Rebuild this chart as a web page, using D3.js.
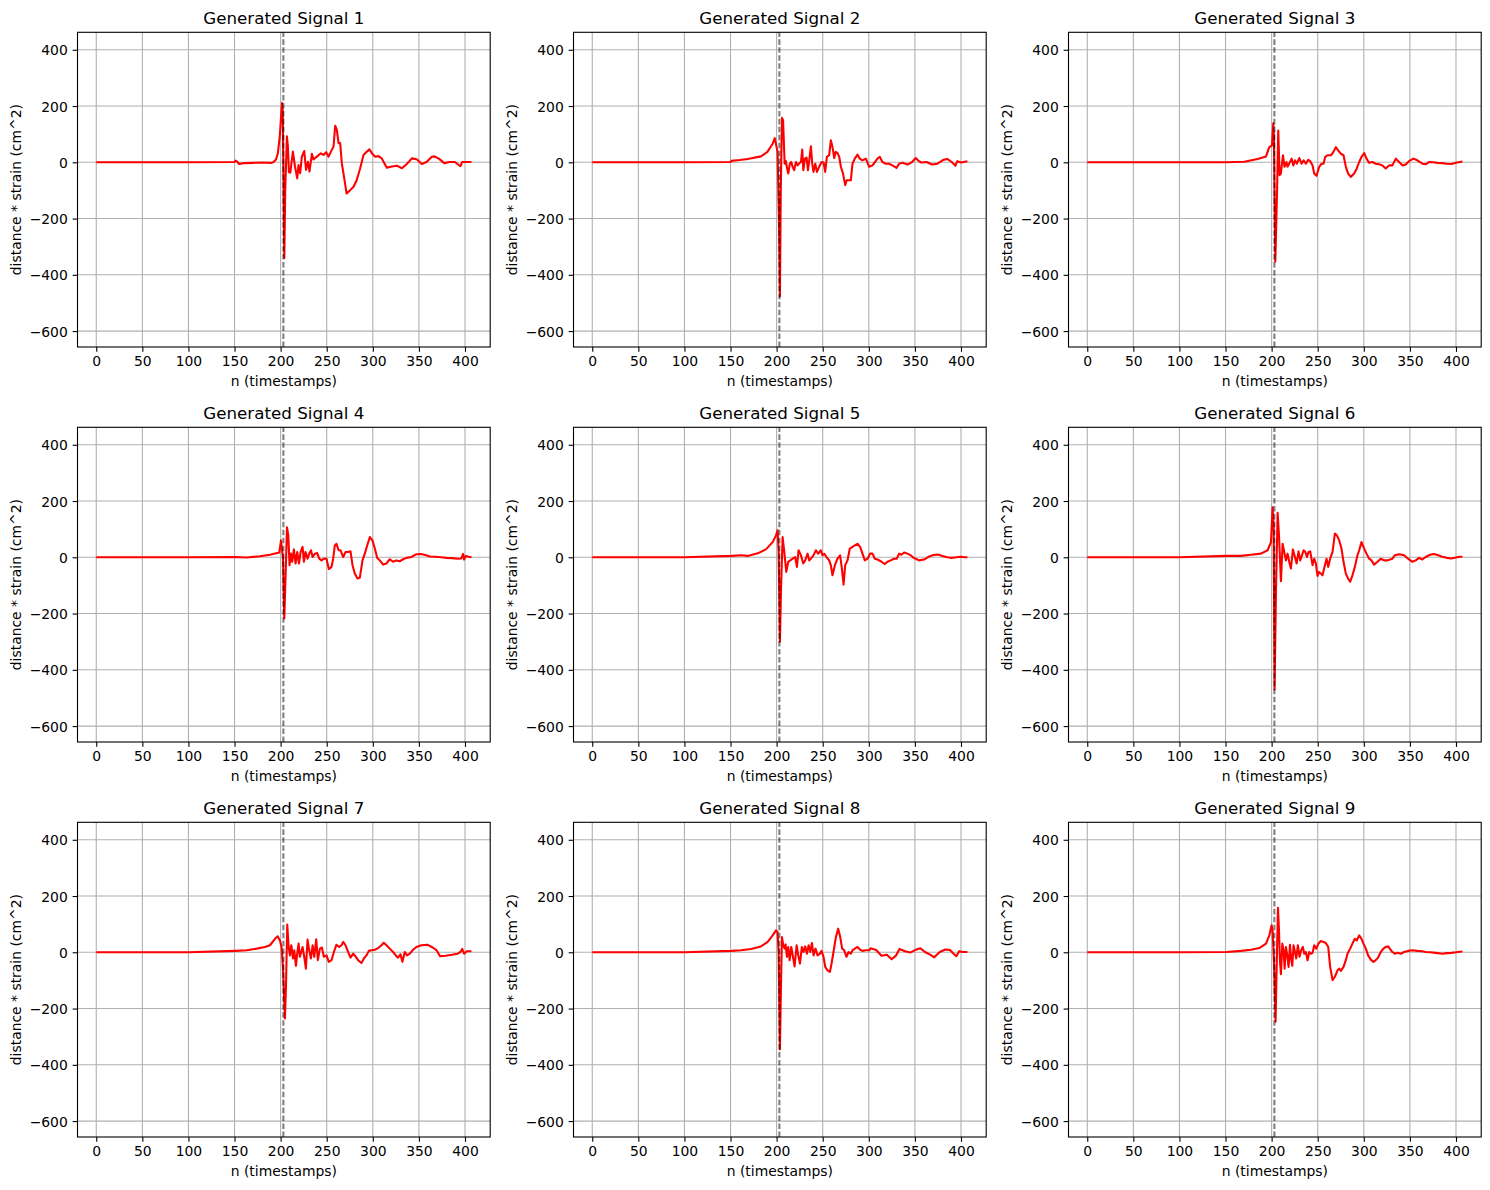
<!DOCTYPE html>
<html><head><meta charset="utf-8">
<script src="https://cdn.jsdelivr.net/npm/d3@7"></script>
<style>body{margin:0;background:#fff;} svg text{font-family:"DejaVu Sans",sans-serif;fill:#000;}</style>
</head><body><svg id="c" width="1490" height="1190"></svg>
<script>
const xTicks=[0,50,100,150,200,250,300,350,400];
const yTicks=[-600,-400,-200,0,200,400];
const xDomain=[-20.35,427.35];
const yDomain=[-656.6,462.1];
const mergerIndex=203;
const titles=["Generated Signal 1","Generated Signal 2","Generated Signal 3","Generated Signal 4","Generated Signal 5","Generated Signal 6","Generated Signal 7","Generated Signal 8","Generated Signal 9"];
const xLabel="n (timestamps)";
const yLabel="distance * strain (cm^2)";

const signal1=[[0,0],[50,0],[100,0],[150,1],[151,6],[153,2],[155,-6],[160,-3],[170,-2],[180,-1],[190,-2],[192,0],[195,10],[197,32],[199,90],[201.5,211],[202.3,180],[204,-340],[205,-100],[206.8,92],[207.8,60],[209,-35],[210.5,-37],[213.3,38],[215.6,-15],[218,-57],[219.4,-10],[221.2,-39],[223,20],[225.6,40],[227.6,-27],[229.6,2],[231.3,-33],[233.9,30],[235.6,10],[239.3,20],[243.6,32],[246.6,26],[249.4,36],[252,20],[254.6,38],[257.4,56],[259.2,130],[261,115],[262.8,68],[264.6,68],[266.4,-4],[268.2,-40],[271.6,-111],[275.5,-99],[279.1,-87],[282.6,-63],[286.3,-21],[289.9,26],[293.6,38],[296.4,46],[299,32],[302.6,20],[306.2,22],[309.6,14],[315.2,-19],[320.6,-15],[326,-12],[331.6,-21],[336.6,-7],[342.4,14],[347.6,11],[353.2,-6],[358.6,2],[364,20],[367,21],[372,12],[377.6,-3],[383,1],[389,1],[395,-14],[397,1],[402,1],[407,1]];
const signal2=[[0,0],[50,0],[100,0],[150,1],[151,5],[160,8],[168.6,12],[183,21],[190,37],[195.7,66],[198,86],[201,37],[202.5,-200],[203.6,-477],[204.5,-100],[205.8,158],[207,150],[208.7,-5],[210,5],[211,-16],[212.6,-40],[214.4,-5],[215.9,1],[217.3,-16],[219,-28],[221,1],[222.7,-11],[225,-2],[226.4,1],[227.8,45],[229,-28],[230.7,13],[232.5,17],[234,-28],[235.4,7],[237.2,57],[238.6,-5],[240,-34],[241.9,-5],[243.7,-34],[246.2,-16],[248.7,1],[251,-1],[252.7,-34],[254.5,19],[257,25],[258.8,78],[260.6,54],[262.5,15],[264,37],[266,33],[267.9,19],[269.7,-16],[272,-40],[274.4,-81],[276,-64],[278.7,-64],[280.5,-64],[282.3,-5],[284.8,13],[287.7,27],[290.2,13],[293,7],[296.8,13],[300.4,-16],[304,-11],[309.4,13],[312,19],[314.8,1],[318.4,-5],[322,-5],[325.6,-11],[330,-20],[332.9,-5],[336.5,-2],[342,-8],[347,1],[350.9,15],[354.5,4],[356.9,-1],[362.7,1],[368.6,-8],[374.5,-5],[380.4,8],[385,12],[390,1],[394,-12],[396,4],[400,-1],[407,4]];
const signal3=[[0,0],[50,0],[100,0],[150,0],[170.4,2],[184.8,12],[193.9,21],[197.5,54],[200.4,60],[201.8,139],[202.5,90],[204,-353],[205.8,-120],[207.2,113],[208.7,-46],[210,-40],[212.3,25],[214,-16],[216,1],[217.3,-16],[219,-5],[221.7,13],[223.5,-11],[225.3,7],[227.4,-5],[230,15],[232.5,-5],[234.7,7],[237.2,-5],[239.7,9],[241.9,4],[244.4,-11],[246.2,-40],[248.7,-48],[251.6,-16],[254.2,-5],[256.3,-5],[258.1,19],[260.6,25],[264.3,25],[267.1,37],[269.7,54],[272.2,42],[275,31],[278,25],[280.5,-16],[283,-40],[285.9,-52],[289.5,-40],[292.4,-22],[295,1],[297.5,19],[300.4,33],[302.9,13],[305.8,-2],[309.4,1],[313,-5],[316.6,-7],[320.2,-11],[323.8,-22],[327.4,-11],[331,-11],[334.7,13],[338.3,1],[342,-11],[345.5,-8],[349,4],[353.8,13],[358,7],[363.5,-5],[367,-7],[370.8,1],[375,0],[380,-2],[385,-3],[390,-5],[395,-6],[400,-2],[404,1],[407,3]];
const signal4=[[0,0],[50,0],[100,0],[150.9,1],[163,-1],[177.6,4],[188.4,9],[198.6,17],[200.4,60],[201.8,19],[202.5,1],[204,-217],[205.4,-65],[206.9,107],[208.3,78],[209.7,-28],[211.2,13],[212.6,-16],[214.4,28],[216.2,-22],[218,19],[219.9,-22],[221.7,19],[223.8,37],[225.3,-16],[227,19],[229.2,-5],[231,13],[232.9,25],[234.7,1],[237.2,13],[239.7,15],[241.9,-5],[244.4,-11],[246.9,-5],[249.8,-5],[252.3,-42],[255.2,-34],[257,-5],[258.8,42],[260.6,48],[262.8,25],[265,25],[267.9,1],[270.4,19],[273.3,19],[275.8,21],[278,-28],[280.5,-58],[283.4,-75],[285.9,-73],[288.8,-11],[291.3,13],[293.9,42],[296.8,72],[299.6,60],[302.2,31],[304.7,-2],[307.6,-11],[311.2,-26],[314.8,-22],[318.4,-7],[322,-16],[325.6,-11],[329.2,-14],[332.9,-7],[336.5,-2],[341.9,1],[347.3,11],[352,12],[357,8],[362,3],[368,2],[374,0],[380,-2],[386,-3],[392,-5],[396,-4],[398,12],[399,-8],[401,5],[404,2],[407,0]];
const signal5=[[0,0],[50,0],[100,0],[150.9,5],[161.4,7],[168.6,5],[179.4,14],[188.4,28],[195.7,54],[199.3,78],[201,96],[202.2,19],[203.6,-300],[204.7,-123],[206.5,72],[208.3,19],[210.5,-52],[212.6,-16],[214.8,-11],[217.3,-5],[220.2,1],[222,-34],[223.8,25],[226.4,7],[228.9,-22],[231,-11],[233.6,13],[235.4,-11],[237.2,-5],[240,7],[242.6,25],[245.1,13],[248,25],[249.8,7],[251.6,13],[254.2,1],[257,-11],[258.8,-28],[260.6,-64],[263.2,-28],[266,-5],[268.9,7],[270.8,-40],[272.6,-97],[274.4,-28],[276.9,-11],[279.4,31],[282.3,37],[284.8,42],[287.7,48],[290.6,37],[293.1,13],[295.7,-11],[298.6,-5],[301.4,13],[304,13],[306.5,-5],[309.4,-8],[313,-14],[317.3,-24],[320.2,-16],[323.8,-11],[327.4,-5],[330.3,-5],[332.9,13],[335.4,9],[338.3,17],[341.9,13],[345.5,7],[348.4,-2],[350.9,-5],[354.5,-11],[360,-8],[365,2],[370,8],[375,10],[380,5],[385,0],[390,-2],[395,0],[400,2],[404,0],[407,0]];
const signal6=[[0,0],[50,0],[100,0],[150.9,5],[166.8,5],[177.6,9],[188.4,13],[195.7,25],[199.3,54],[201,178],[202.2,110],[203.2,-470],[204.7,-123],[206.5,158],[208,78],[210.1,-85],[211.9,48],[213.7,19],[215.5,-11],[217.3,13],[219.1,-16],[220.9,-40],[223.1,28],[225.3,1],[227.1,-22],[229.2,21],[231,-11],[232.9,7],[234.7,25],[236.5,19],[238.3,1],[240.1,19],[241.9,21],[244.4,-28],[246.2,-5],[248,-22],[249.8,-66],[251.6,-52],[253.4,-58],[255.2,-64],[257.8,-28],[259.6,-5],[261.4,-34],[263.5,-5],[266.1,19],[268.6,84],[270.8,78],[273.3,60],[275.8,31],[278,-16],[280.5,-58],[283,-76],[285.2,-87],[287.7,-64],[290.3,-34],[293.1,7],[295,25],[297.5,54],[300.4,31],[302.9,13],[305.8,-5],[308.3,-11],[311.2,-26],[314.8,-16],[318.4,-5],[322,-11],[325.6,-11],[331,-5],[333.6,7],[338.3,11],[343.7,7],[348,-5],[352.7,-16],[356.3,-11],[360,-2],[363.5,-8],[367.1,1],[371.8,9],[376,12],[380,8],[385,2],[390,-2],[395,-4],[400,-1],[404,2],[407,2]];
const signal7=[[0,0],[50,0],[100,0],[150.9,5],[163.2,7],[174,13],[183,19],[188.4,25],[193.9,48],[196.8,57],[199.3,42],[201,19],[202.5,-52],[204.7,-235],[205.8,-123],[207.2,99],[208.7,19],[210.1,-11],[211.6,25],[213.4,-22],[214.8,7],[216.6,-48],[218,-5],[219.5,31],[220.9,-16],[222.4,1],[223.8,19],[225.6,-16],[227.4,-58],[229.2,45],[231,7],[232.9,-22],[234.7,25],[236.5,-16],[238.6,46],[240.4,-28],[242.6,13],[244.8,17],[246.9,-16],[249.8,-11],[252.3,-34],[255.2,-28],[257.8,1],[260.6,27],[263.5,19],[266.1,25],[267.9,37],[270.4,25],[273.3,1],[275.8,-19],[278.7,-5],[281.6,-16],[284.1,-28],[287.7,-38],[290.3,-22],[293.1,-11],[295.7,5],[298.6,7],[302.2,9],[305.8,15],[309.4,25],[311.9,34],[314.8,25],[318.4,13],[322,1],[325.6,-14],[327.4,-19],[330,-7],[332.1,-34],[334.7,1],[337.2,-11],[340.1,-5],[343.7,9],[347.3,19],[352.7,25],[359,27],[365,17],[369,8],[373,-14],[379,-12],[386,-9],[392,-5],[395,1],[397,12],[399,-5],[402,4],[407,4]];
const signal8=[[0,0],[50,0],[100,0],[150.9,5],[161.4,7],[172.2,12],[183,21],[190.3,37],[195.7,60],[199.3,78],[201,72],[202.2,-5],[203.6,-345],[204.7,-123],[205.8,54],[207.2,25],[208.7,13],[209.7,28],[211.2,-16],[212.6,19],[214.1,-28],[215.9,19],[217.7,-16],[219.5,-50],[221.7,25],[223.5,-11],[225.3,-40],[227.4,19],[229.2,1],[231,21],[232.9,-5],[234.7,25],[236.5,1],[238.3,33],[240.1,-11],[242.2,13],[244.4,-11],[246.9,-5],[248.7,5],[250.9,-16],[252.7,-52],[255.2,-64],[257.8,-70],[259.6,-40],[261.7,1],[264.3,54],[266.8,84],[269,54],[271.1,13],[273.3,7],[275.8,-16],[278,1],[280.5,-5],[282.3,7],[284.8,13],[287.7,19],[290.6,9],[293.1,5],[296.8,7],[300.4,7],[302,14],[308,8],[313.7,-12],[319.6,-9],[324.7,-25],[329.4,-12],[333.3,12],[339.2,4],[345,-1],[350,8],[356,14],[361,1],[367,-9],[371,-18],[377,1],[383,10],[388,8],[392,-5],[395,-14],[398,4],[402,1],[407,1]];
const signal9=[[0,0],[50,0],[100,0],[150.9,1],[166.8,5],[177.6,9],[186.6,15],[193.9,31],[197.5,60],[200,96],[201,78],[202.5,-28],[204.3,-247],[205.4,-64],[206.9,158],[208,78],[209,-28],[210.1,-78],[211.6,31],[213,7],[214.1,-58],[215.5,19],[217,-11],[218.4,-52],[219.9,27],[221.3,-28],[222.4,-48],[223.8,25],[225.3,1],[226.7,-22],[228.5,25],[230.3,-16],[232.1,7],[233.9,19],[235.4,-5],[237.2,1],[239,-28],[240.8,1],[242.6,-5],[244.4,-2],[246.2,25],[248.4,13],[250.9,31],[253.4,40],[256.3,37],[258.8,33],[261.4,19],[263.5,-52],[266.1,-99],[268.6,-87],[271.5,-64],[273.3,-58],[275.1,-66],[278,-52],[280.5,-28],[282.3,-5],[285.2,13],[287.7,31],[290.3,48],[292.4,42],[295,60],[297.5,48],[299.6,31],[302.2,13],[304.7,-11],[307.6,-26],[310.5,-34],[313,-28],[315.5,-19],[318.4,1],[321.3,13],[323.8,19],[326.4,21],[329.2,9],[331,1],[333.6,-5],[336.5,-2],[340.1,-5],[343.7,1],[348,5],[352.7,7],[358.1,5],[363.5,4],[367.1,1],[371.8,0],[378,-2],[385,-5],[390,-3],[395,-2],[400,0],[404,2],[407,3]];
const signals=[signal1,signal2,signal3,signal4,signal5,signal6,signal7,signal8,signal9];

const svg=d3.select("#c");
const colLeft=[77.5,573.5,1068.5], rowTop=[32.3,427.3,822.3];
const W=412.7, H=314.7;
const fs=13.9;
const fmt=d=>String(d).replace("-","\u2212");

signals.forEach((sig,i)=>{
  const r=Math.floor(i/3), c=i%3;
  const g=svg.append("g").attr("transform",`translate(${colLeft[c]},${rowTop[r]})`);
  const x=d3.scaleLinear().domain(xDomain).range([0,W]);
  const y=d3.scaleLinear().domain(yDomain).range([H,0]);
  const clipId="clip"+i;
  g.append("clipPath").attr("id",clipId).append("rect").attr("width",W).attr("height",H);
  g.append("g").selectAll("line").data(xTicks).join("line")
    .attr("x1",d=>x(d)).attr("x2",d=>x(d)).attr("y1",0).attr("y2",H)
    .attr("stroke","#b0b0b0").attr("stroke-width",1.1);
  g.append("g").selectAll("line").data(yTicks).join("line")
    .attr("y1",d=>y(d)).attr("y2",d=>y(d)).attr("x1",0).attr("x2",W)
    .attr("stroke","#b0b0b0").attr("stroke-width",1.1);
  const line=d3.line().x(d=>x(d[0])).y(d=>y(d[1]));
  g.append("path").datum(sig).attr("d",line).attr("fill","none")
    .attr("stroke","#ff0000").attr("stroke-width",2.08).attr("stroke-linejoin","round")
    .attr("clip-path",`url(#${clipId})`);
  g.append("line").attr("x1",x(mergerIndex)).attr("x2",x(mergerIndex)).attr("y1",H).attr("y2",0)
    .attr("stroke","#000").attr("stroke-opacity",0.5).attr("stroke-width",2.08)
    .attr("stroke-dasharray","5.55,2.4");
  const xa=g.append("g").attr("transform",`translate(0,${H})`)
    .call(d3.axisBottom(x).tickValues(xTicks).tickFormat(fmt).tickSize(4.86).tickPadding(4.86));
  const ya=g.append("g")
    .call(d3.axisLeft(y).tickValues(yTicks).tickFormat(fmt).tickSize(4.86).tickPadding(4.86));
  [xa,ya].forEach(a=>{
    a.select(".domain").remove();
    a.selectAll(".tick line").attr("stroke","#000").attr("stroke-width",1.1);
    a.selectAll(".tick text").attr("font-size",fs).attr("font-family","DejaVu Sans");
  });
  xa.selectAll(".tick text").attr("dy",null).attr("y",18.7).attr("dominant-baseline","alphabetic");
  ya.selectAll(".tick text").attr("dy","0.36em");
  g.append("rect").attr("width",W).attr("height",H).attr("fill","none")
    .attr("stroke","#000").attr("stroke-width",1.1);
  g.append("text").attr("x",W/2).attr("y",-8.3).attr("text-anchor","middle")
    .attr("font-size",16.7).text(titles[i]);
  g.append("text").attr("x",W/2).attr("y",H+39.5).attr("text-anchor","middle")
    .attr("font-size",fs).text(xLabel);
  g.append("text").attr("transform",`translate(-56.4,${H/2}) rotate(-90)`)
    .attr("text-anchor","middle").attr("font-size",fs).text(yLabel);
});
</script></body></html>
